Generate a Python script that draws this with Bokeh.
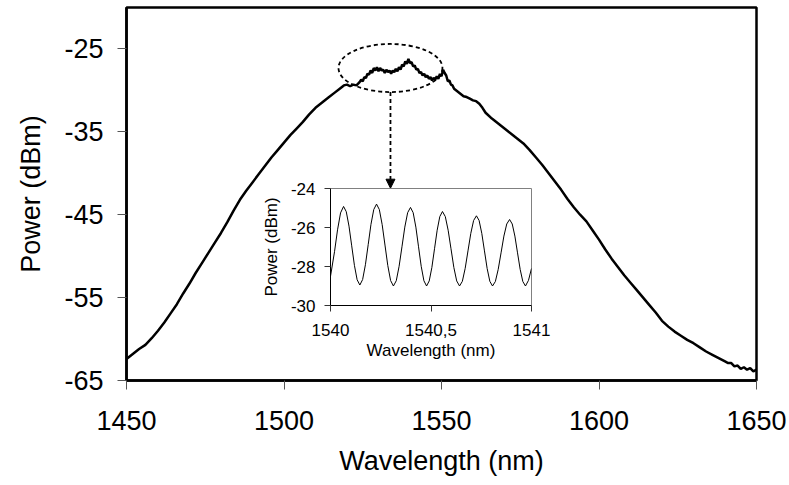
from bokeh.plotting import figure
from bokeh.models import FixedTicker, Arrow, NormalHead, GridBox, Range1d
from bokeh.embed import file_html
from bokeh.resources import INLINE

# ---------------- data ----------------
main_wavelength = [
    1450, 1452, 1454, 1456, 1458, 1460, 1462, 1464, 1466, 1468,
    1470, 1472, 1474, 1476, 1478, 1480, 1482, 1484, 1486, 1488,
    1490, 1492, 1494, 1496, 1498, 1500, 1502, 1504, 1506, 1508,
    1510, 1512, 1514, 1516, 1518, 1519, 1520, 1521, 1522, 1523,
    1524, 1524.5, 1525, 1525.5, 1526, 1526.5, 1527, 1527.5, 1528, 1528.5,
    1529, 1529.5, 1530, 1530.5, 1531, 1531.5, 1532, 1532.5, 1533, 1533.5,
    1534, 1534.5, 1535, 1535.5, 1536, 1536.5, 1537, 1537.5, 1538, 1538.5,
    1539, 1539.5, 1540, 1540.5, 1541, 1541.5, 1542, 1542.5, 1543, 1543.5,
    1544, 1544.5, 1545, 1545.5, 1546, 1546.5, 1547, 1547.5, 1548, 1548.5,
    1549, 1549.5, 1550, 1550.5, 1551, 1551.5, 1552, 1552.5, 1553, 1553.5,
    1554, 1555, 1556, 1557, 1558, 1559, 1560, 1561,
    1562, 1563, 1564, 1566, 1568, 1570, 1572, 1574, 1576, 1578,
    1580, 1582, 1584, 1586, 1588, 1590, 1592, 1594, 1596, 1598,
    1600, 1602, 1604, 1606, 1608, 1610, 1612, 1614, 1616, 1618,
    1620, 1622, 1624, 1626, 1628, 1630, 1632, 1634, 1636, 1638,
    1640, 1641, 1642, 1643, 1644, 1645, 1646, 1647, 1648, 1649, 1650,
]
main_power = [
    -62.4, -61.8, -61.2, -60.7, -59.9, -59.0, -58.0, -56.9, -55.8, -54.5,
    -53.3, -52.0, -50.8, -49.6, -48.4, -47.2, -45.9, -44.5, -43.2, -42.1,
    -41.1, -40.1, -39.1, -38.1, -37.2, -36.3, -35.4, -34.6, -33.8, -32.9,
    -32.1, -31.5, -30.9, -30.3, -29.7, -29.4, -29.3, -29.5, -29.3, -29.4,
    -29.0, -28.7, -28.9, -28.4, -28.5, -28.0, -28.1, -27.6, -27.9, -27.3,
    -27.6, -27.2, -27.7, -27.3, -27.6, -27.5, -27.9, -27.5, -27.8, -27.6,
    -28.0, -27.6, -27.8, -27.4, -27.7, -27.2, -27.5, -26.9, -27.1, -26.5,
    -26.8, -26.2, -26.7, -26.6, -27.1, -27.0, -27.5, -27.4, -27.9, -27.8,
    -28.2, -28.0, -28.4, -28.2, -28.6, -28.4, -28.8, -28.5, -28.7, -28.3,
    -28.6, -28.0, -28.3, -27.5, -27.9, -28.2, -28.9, -28.8, -29.3, -29.4,
    -29.8, -30.1, -30.4, -30.7, -30.8, -31.0, -31.2, -31.3,
    -31.6, -32.1, -32.7, -33.4, -34.0, -34.6, -35.2, -35.8, -36.4, -37.2,
    -38.1, -39.0, -40.0, -41.0, -42.0, -43.1, -44.1, -45.0, -45.8, -46.9,
    -48.0, -49.2, -50.3, -51.3, -52.3, -53.2, -54.1, -55.0, -55.9, -56.8,
    -57.8, -58.5, -59.1, -59.6, -60.1, -60.5, -61.0, -61.5, -61.9, -62.3,
    -62.7, -62.9, -62.9, -63.3, -63.2, -63.6, -63.4, -63.7, -63.5, -63.9, -63.7,
]
main_x_ticks = [1450, 1500, 1550, 1600, 1650]
main_y_ticks = [-65, -55, -45, -35, -25]
main_y_tick_labels = ["-65", "-55", "-45", "-35", "-25"]

inset_wavelength = [
    1540.000, 1540.020, 1540.035, 1540.050, 1540.065,
    1540.0785, 1540.092, 1540.1055, 1540.119, 1540.1325, 1540.146,
    1540.1598, 1540.1737, 1540.1875, 1540.2013, 1540.2152, 1540.229,
    1540.243, 1540.257, 1540.271, 1540.285, 1540.299, 1540.313,
    1540.3272, 1540.3413, 1540.3555, 1540.3697, 1540.3838, 1540.398,
    1540.4113, 1540.4247, 1540.438, 1540.4513, 1540.4647, 1540.478,
    1540.4912, 1540.5043, 1540.5175, 1540.5307, 1540.5438, 1540.557,
    1540.5712, 1540.5853, 1540.5995, 1540.6137, 1540.6278, 1540.642,
    1540.656, 1540.670, 1540.684, 1540.698, 1540.712, 1540.726,
    1540.7393, 1540.7527, 1540.766, 1540.7793, 1540.7927, 1540.806,
    1540.8202, 1540.8343, 1540.8485, 1540.8627, 1540.8768, 1540.891,
    1540.9042, 1540.9173, 1540.9305, 1540.9437, 1540.9568, 1540.970,
    1540.985, 1541.000,
]
inset_power = [
    -28.50, -27.24, -26.12, -25.25, -24.92,
    -25.19, -25.93, -26.94, -27.94, -28.68, -28.95,
    -28.67, -27.91, -26.88, -25.84, -25.08, -24.80,
    -25.08, -25.85, -26.90, -27.95, -28.72, -29.00,
    -28.73, -27.99, -26.99, -25.98, -25.24, -24.97,
    -25.24, -25.98, -26.99, -27.99, -28.73, -29.00,
    -28.74, -28.05, -27.09, -26.14, -25.44, -25.18,
    -25.44, -26.14, -27.09, -28.05, -28.74, -29.00,
    -28.76, -28.10, -27.20, -26.30, -25.64, -25.40,
    -25.64, -26.30, -27.20, -28.10, -28.76, -29.00,
    -28.77, -28.15, -27.30, -26.44, -25.82, -25.59,
    -25.82, -26.44, -27.30, -28.15, -28.77, -29.00,
    -28.71, -28.10,
]
inset_x_ticks = [1540, 1540.5, 1541]
inset_x_tick_labels = ["1540", "1540,5", "1541"]
inset_y_ticks = [-30, -28, -26, -24]
inset_y_tick_labels = ["-30", "-28", "-26", "-24"]

FONT = "Liberation Sans"

# Frame borders shared by both plots (the grid aligns their frames)
B_LEFT, B_RIGHT, B_TOP, B_BOTTOM = 126, 33, 7, 105

# ---------------- main figure ----------------
p = figure(width=789, height=485, x_range=Range1d(1450, 1650), y_range=Range1d(-65, -20),
           output_backend="svg", toolbar_location=None,
           min_border_left=B_LEFT, min_border_right=B_RIGHT,
           min_border_top=B_TOP, min_border_bottom=B_BOTTOM)
p.grid.visible = False
p.background_fill_color = "white"
p.border_fill_color = "white"
p.outline_line_color = "black"
p.outline_line_width = 2.5

p.line(main_wavelength, main_power, line_color="black", line_width=2.5)

# dashed ellipse around the top and dashed arrow down to the inset
p.ellipse(x=[1533.8], y=[-27.3], width=[33], height=[5.8], fill_color=None,
          line_color="black", line_width=1.8, line_dash="4 3")
p.add_layout(Arrow(end=NormalHead(size=9, fill_color="black", line_color="black"),
                   x_start=1533.8, y_start=-30.2, x_end=1533.8, y_end=-41.8,
                   line_color="black", line_width=1.8, line_dash="4 3"))

for ax in (p.xaxis[0], p.yaxis[0]):
    ax.axis_line_color = "black"
    ax.axis_line_width = 2.5
    ax.major_tick_line_color = "#555555"
    ax.major_tick_line_width = 1
    ax.major_tick_in = 0
    ax.major_tick_out = 9
    ax.minor_tick_line_color = None
    ax.major_label_text_font = FONT
    ax.major_label_text_font_size = "27px"
    ax.major_label_text_color = "black"
    ax.axis_label_text_font = FONT
    ax.axis_label_text_font_size = "27px"
    ax.axis_label_text_font_style = "normal"
    ax.axis_label_text_color = "black"

p.xaxis.ticker = FixedTicker(ticks=main_x_ticks)
p.yaxis.ticker = FixedTicker(ticks=main_y_ticks)
p.yaxis.major_label_overrides = {t: s for t, s in zip(main_y_ticks, main_y_tick_labels)}
p.xaxis.axis_label = "Wavelength (nm)"
p.yaxis.axis_label = "Power (dBm)"
p.xaxis.major_label_standoff = 21
p.xaxis.axis_label_standoff = 13
p.yaxis.major_label_standoff = 14
p.yaxis.axis_label_standoff = 15

# ---------------- inset figure ----------------
# desired inset frame: x 330..531, y 188..305 (frame 201 x 117)
inset = figure(width=B_LEFT + 201 + B_RIGHT, height=B_TOP + 117 + B_BOTTOM,
               x_range=Range1d(1540, 1541), y_range=Range1d(-30, -24),
               output_backend="svg", toolbar_location=None,
               min_border_left=B_LEFT, min_border_right=B_RIGHT,
               min_border_top=B_TOP, min_border_bottom=B_BOTTOM)
inset.grid.visible = False
inset.background_fill_alpha = 0
inset.border_fill_alpha = 0
inset.outline_line_color = "#808080"
inset.outline_line_width = 1

inset.line(inset_wavelength, inset_power, line_color="black", line_width=1)

for ax in (inset.xaxis[0], inset.yaxis[0]):
    ax.axis_line_color = "black"
    ax.axis_line_width = 1
    ax.major_tick_line_color = "#333333"
    ax.major_tick_line_width = 1
    ax.major_tick_in = 0
    ax.major_tick_out = 6
    ax.minor_tick_line_color = None
    ax.major_label_text_font = FONT
    ax.major_label_text_font_size = "17px"
    ax.major_label_text_color = "black"
    ax.axis_label_text_font = FONT
    ax.axis_label_text_font_size = "17px"
    ax.axis_label_text_font_style = "normal"
    ax.axis_label_text_color = "black"

inset.xaxis.ticker = FixedTicker(ticks=inset_x_ticks)
inset.xaxis.major_label_overrides = {t: s for t, s in zip(inset_x_ticks, inset_x_tick_labels)}
inset.yaxis.ticker = FixedTicker(ticks=inset_y_ticks)
inset.yaxis.major_label_overrides = {t: s for t, s in zip(inset_y_ticks, inset_y_tick_labels)}
inset.xaxis.axis_label = "Wavelength (nm)"
inset.yaxis.axis_label = "Power (dBm)"
inset.xaxis.major_label_standoff = 12
inset.xaxis.axis_label_standoff = 2
inset.yaxis.major_label_standoff = 9
inset.yaxis.axis_label_standoff = 7

inset.margin = (188 - B_TOP, 0, 0, 330 - B_LEFT)

layout = GridBox(children=[(p, 0, 0), (inset, 0, 0)])

with open("out.html", "w") as f:
    f.write(file_html(layout, INLINE))
